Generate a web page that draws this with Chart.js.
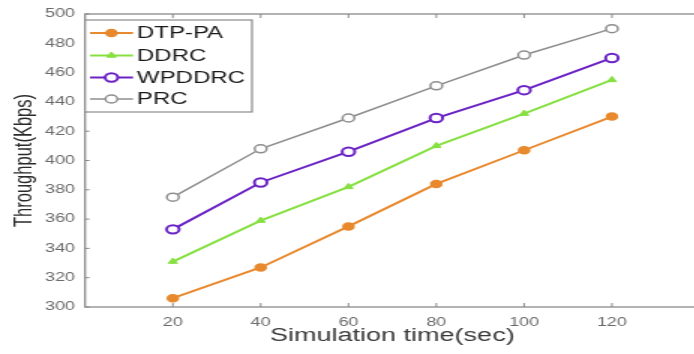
<!DOCTYPE html>
<html>
<head>
<meta charset="utf-8">
<script src="https://cdn.jsdelivr.net/npm/chart.js@4"></script>
<style>
  html, body { margin: 0; padding: 0; background: #fff; overflow: hidden; width: 694px; height: 354px; }
  /* the source picture is stretched sideways, so draw narrow and widen */
  #wrap { position: absolute; left: 0; top: 0; width: 474px; height: 354px; transform: scaleX(1.5); transform-origin: 0 0; }
</style>
</head>
<body>
<div id="wrap"><canvas id="c" width="474" height="354"></canvas></div>
<script>
// ===== data =====
var TIMES   = [20, 40, 60, 80, 100, 120];
var DTP_PA  = [306, 327, 355, 384, 407, 430];
var DDRC    = [331, 359, 382, 410, 432, 455];
var WPDDRC  = [353, 385, 406, 429, 448, 470];
var PRC     = [375, 408, 429, 451, 472, 490];
var X_TICKS = [20, 40, 60, 80, 100, 120];
var Y_TICKS = [300, 320, 340, 360, 380, 400, 420, 440, 460, 480, 500];

var FONT = "'Liberation Sans', Arial, sans-serif";

function pts(vals) {
  var out = [];
  for (var i = 0; i < TIMES.length; i++) out.push({ x: TIMES[i], y: vals[i] });
  return out;
}

var SERIES = [
  { label: "DTP-PA", data: DTP_PA, color: "#E8892E", style: "circle",   r: 3.5, fill: "#E8892E", bw: 1.5, lw: 2 },
  { label: "DDRC",   data: DDRC,   color: "#86E041", style: "triangle", r: 3.5, fill: "#86E041", bw: 1,   lw: 2 },
  { label: "WPDDRC", data: WPDDRC, color: "#6A22C4", style: "circle",   r: 4.2, fill: "#ffffff", bw: 2,   lw: 2 },
  { label: "PRC",    data: PRC,    color: "#8E8E8E", style: "circle",   r: 4,   fill: "#ffffff", bw: 1.5, lw: 1.5 }
];

var datasets = SERIES.map(function (s) {
  return {
    label: s.label,
    data: pts(s.data),
    borderColor: s.color,
    backgroundColor: s.color,
    borderWidth: s.lw,
    pointStyle: s.style,
    pointRadius: s.r,
    pointBackgroundColor: s.fill,
    pointBorderColor: s.color,
    pointBorderWidth: s.bw,
    tension: 0
  };
});

// ===== box, inward ticks and legend (matlab look) =====
var framePlugin = {
  id: "frame",
  beforeDatasetsDraw: function (chart) {
    var ctx = chart.ctx, a = chart.chartArea;
    var xs = chart.scales.x, ys = chart.scales.y;
    ctx.save();
    ctx.strokeStyle = "#8a8a8a";
    ctx.lineWidth = 1.3;
    ctx.strokeRect(a.left, a.top, a.right - a.left, a.bottom - a.top);
    ctx.lineWidth = 1;
    ctx.beginPath();
    X_TICKS.forEach(function (v) {
      var px = xs.getPixelForValue(v);
      ctx.moveTo(px, a.bottom); ctx.lineTo(px, a.bottom - 4);
      ctx.moveTo(px, a.top); ctx.lineTo(px, a.top + 4);
    });
    Y_TICKS.forEach(function (v) {
      var py = ys.getPixelForValue(v);
      ctx.moveTo(a.left, py); ctx.lineTo(a.left + 3, py);
      ctx.moveTo(a.right, py); ctx.lineTo(a.right - 3, py);
    });
    ctx.stroke();
    ctx.restore();
  },
  afterDraw: function (chart) {
    var ctx = chart.ctx, a = chart.chartArea;
    var bx = a.left, by = 20, bw = 168 - a.left, bh = 92;
    ctx.save();
    ctx.fillStyle = "#ffffff";
    ctx.fillRect(bx, by, bw, bh);
    ctx.strokeStyle = "#8a8a8a";
    ctx.lineWidth = 1.2;
    ctx.strokeRect(bx, by, bw, bh);
    var rows = [33, 55.5, 77.5, 99];
    SERIES.forEach(function (s, i) {
      var y = rows[i];
      ctx.strokeStyle = s.color;
      ctx.lineWidth = s.lw;
      ctx.beginPath();
      ctx.moveTo(60, y); ctx.lineTo(88.7, y);
      ctx.stroke();
      ctx.fillStyle = s.fill;
      ctx.strokeStyle = s.color;
      ctx.lineWidth = s.bw;
      Chart.helpers.drawPoint(ctx, { pointStyle: s.style, radius: s.r, rotation: 0, borderWidth: s.bw }, 74.3, y);
      ctx.fillStyle = "#1a1a1a";
      ctx.font = "16px " + FONT;
      ctx.textBaseline = "middle";
      ctx.textAlign = "left";
      ctx.fillText(s.label, 91.3, y + 1);
    });
    ctx.restore();
  }
};

new Chart(document.getElementById("c"), {
  type: "line",
  data: { datasets: datasets },
  plugins: [framePlugin],
  options: {
    responsive: false,
    animation: false,
    layout: { padding: { top: 14, right: 7.5, left: 0, bottom: 0 } },
    plugins: { legend: { display: false }, tooltip: { enabled: false } },
    scales: {
      x: {
        type: "linear",
        min: 0, max: 140,
        afterBuildTicks: function (scale) {
          scale.ticks = X_TICKS.map(function (v) { return { value: v }; });
        },
        afterFit: function (scale) { scale.height = 47; },
        grid: { display: false, drawTicks: false },
        border: { display: false },
        ticks: { padding: 8, color: "#6a6a6a", font: { family: FONT, size: 12 } },
        title: {
          display: true,
          text: "Simulation time(sec)",
          color: "#3a3a3a",
          font: { family: FONT, size: 18 },
          padding: { top: 0, bottom: 7 }
        }
      },
      y: {
        min: 300, max: 500,
        afterBuildTicks: function (scale) {
          scale.ticks = Y_TICKS.map(function (v) { return { value: v }; });
        },
        afterFit: function (scale) { scale.width = 56.7; },
        grid: { display: false, drawTicks: false },
        border: { display: false },
        ticks: { padding: 6.7, color: "#6a6a6a", font: { family: FONT, size: 12 } },
        title: {
          display: true,
          text: "Throughput(Kbps)",
          color: "#2a2a2a",
          font: { family: FONT, size: 16.5 },
          padding: { top: 7, bottom: 0 }
        }
      }
    }
  }
});
</script>
</body>
</html>
